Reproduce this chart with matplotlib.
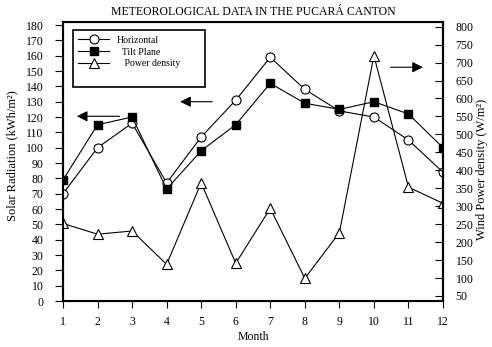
import matplotlib
matplotlib.use("Agg")
import matplotlib.pyplot as plt
from matplotlib.patches import Rectangle

plt.rcParams['font.family'] = ['Liberation Serif', 'DejaVu Serif']

months = [1, 2, 3, 4, 5, 6, 7, 8, 9, 10, 11, 12]
horizontal = [70, 100, 116, 77, 107, 131, 159, 138, 124, 120, 105, 84]
tilt_plane = [79, 115, 120, 73, 98, 115, 142, 129, 125, 130, 122, 100]
power_density = [252, 222, 231, 138, 365, 141, 294, 99, 226, 719, 353, 308]

left_ticks = list(range(0, 181, 10))
right_ticks = list(range(50, 801, 50))

fig = plt.figure(figsize=(4.92, 3.47), dpi=100)
ax1 = fig.add_axes([63 / 492, 46 / 347, 380 / 492, 279 / 347])

l1, = ax1.plot(months, horizontal, 'k-', lw=0.8, marker='o', ms=6.5,
               mfc='white', mec='black', mew=0.8)
l2, = ax1.plot(months, tilt_plane, 'k-', lw=0.8, marker='s', ms=5.5,
               mfc='black', mec='black')
ax1.set_xlim(1, 12)
ax1.set_ylim(0, 182)
ax1.set_xticks(months)
ax1.set_yticks(left_ticks)
ax1.tick_params(axis='y', labelsize=8.5, direction='out', length=6, width=0.8, pad=8)
ax1.tick_params(axis='x', labelsize=8.5, direction='out', length=5, width=0.8, pad=6)
ax1.set_xlabel("Month", fontsize=8.5)
ax1.xaxis.set_label_coords(0.5, -0.108)
ax1.set_ylabel("Solar Radiation (kWh/m²)", fontsize=9)
ax1.yaxis.set_label_coords(-0.118, 0.52)
for s in ax1.spines.values():
    s.set_linewidth(1.5)
ax1.set_title("METEOROLOGICAL DATA IN THE PUCARÁ CANTON", fontsize=8.5, pad=5)

ax2 = ax1.twinx()
l3, = ax2.plot(months, power_density, 'k-', lw=0.8, marker='^', ms=7,
               mfc='white', mec='black', mew=0.8)
ax2.set_ylim(36, 813)
ax2.set_yticks(right_ticks)
ax2.tick_params(labelsize=8.5, direction='in', length=6, width=0.8, pad=9)
ax2.set_ylabel("Wind Power density (W/m²)", fontsize=9)
ax2.yaxis.set_label_coords(1.087, 0.47)
ax2.spines['right'].set_linewidth(1.5)

# flechas que indican el eje de cada serie
arrow = dict(arrowstyle='-|>', color='black', lw=0.8, mutation_scale=16)
ax1.annotate("", xy=(1.32, 120.5), xytext=(2.72, 120.5), arrowprops=arrow)
ax1.annotate("", xy=(4.31, 130), xytext=(5.4, 130), arrowprops=arrow)
ax1.annotate("", xy=(11.5, 152.5), xytext=(10.4, 152.5), arrowprops=arrow)

# marco de la leyenda
ax2.add_patch(Rectangle((0.026, 0.767), 0.348, 0.204, transform=ax2.transAxes,
                        fill=False, edgecolor='black', lw=1.2, zorder=5))
leg = ax2.legend([l1, l2, l3], ["Horizontal", "  Tilt Plane", "   Power density"],
                 loc='upper left', bbox_to_anchor=(0.03, 0.965), borderaxespad=0,
                 fontsize=7, frameon=False, handlelength=3.2,
                 borderpad=0.4, labelspacing=0.3)

fig.savefig("out.png", dpi=100)
